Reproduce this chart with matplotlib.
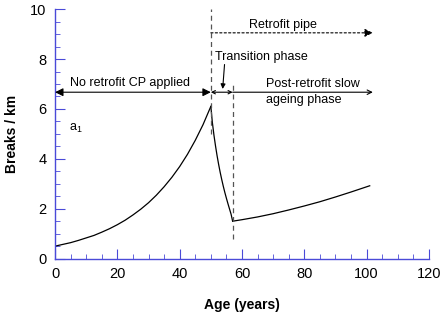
import numpy as np
import matplotlib.pyplot as plt
from matplotlib.ticker import MultipleLocator

plt.rcParams['font.family'] = ['Liberation Sans', 'DejaVu Sans']
plt.rcParams['mathtext.default'] = 'regular'

# courbe : avant retrofit, transition, apres retrofit
age_avant = [0, 2.5, 5, 7.5, 10, 12.5, 15, 17.5, 20, 22.5, 25, 27.5, 30,
             32.5, 35, 37.5, 40, 42.5, 45, 47.5, 50]
casses_avant = [0.50, 0.57, 0.64, 0.73, 0.83, 0.93, 1.06, 1.20, 1.36, 1.54, 1.75,
                1.98, 2.24, 2.54, 2.88, 3.26, 3.69, 4.18, 4.74, 5.37, 6.1]
age_trans = [50, 50.5, 51, 51.5, 52, 52.5, 53, 53.5, 54, 54.5, 55, 55.5, 56, 56.5, 57]
casses_trans = [6.1, 5.45, 4.95, 4.52, 4.13, 3.78, 3.46, 3.17, 2.9, 2.65, 2.42,
                2.2, 1.99, 1.78, 1.5]
age_apres = [57, 60, 65, 70, 75, 80, 85, 90, 95, 101]
casses_apres = [1.5, 1.56, 1.67, 1.8, 1.95, 2.11, 2.28, 2.47, 2.67, 2.92]

t_retrofit = 50
t_fin_transition = 57
t_fin = 102

bleu = '#4a4ad8'

fig = plt.figure(figsize=(4.44, 3.15), dpi=100)
ax = fig.add_axes([0.124, 0.179, 0.842, 0.792])

ax.plot(age_avant, casses_avant, color='black', lw=0.9)
ax.plot(age_trans, casses_trans, color='black', lw=0.9)
ax.plot(age_apres, casses_apres, color='black', lw=0.9)

# lignes verticales en tirets
ax.plot([t_retrofit, t_retrofit], [5.0, 10], color='#555555', lw=0.9, ls=(0, (4, 3)))
ax.plot([t_fin_transition, t_fin_transition], [0.8, 7.0], color='#555555', lw=0.9, ls=(0, (4, 3)))

y_fleche = 6.67
ax.annotate('', xy=(0, y_fleche), xytext=(t_retrofit, y_fleche),
            arrowprops=dict(arrowstyle='<|-|>', color='black', lw=0.8, mutation_scale=12,
                            shrinkA=0, shrinkB=0))
ax.annotate('', xy=(t_retrofit, y_fleche), xytext=(t_fin_transition, y_fleche),
            arrowprops=dict(arrowstyle='<->', color='black', lw=0.8, mutation_scale=6,
                            shrinkA=0, shrinkB=0))
ax.annotate('', xy=(t_fin, y_fleche), xytext=(t_fin_transition, y_fleche),
            arrowprops=dict(arrowstyle='->', color='black', lw=0.8, mutation_scale=8,
                            shrinkA=0, shrinkB=0))
ax.annotate('', xy=(t_fin, 9.05), xytext=(t_retrofit, 9.05),
            arrowprops=dict(arrowstyle='-|>', color='black', lw=0.8, ls=(0, (2, 2)),
                            mutation_scale=12, shrinkA=0, shrinkB=0))
ax.annotate('', xy=(53.8, 6.8), xytext=(54.4, 7.78),
            arrowprops=dict(arrowstyle='-|>', color='black', lw=0.8, mutation_scale=7,
                            shrinkA=0, shrinkB=0))

ax.text(24, 6.8, 'No retrofit CP applied', fontsize=9, ha='center', va='bottom')
ax.text(51.3, 8.1, 'Transition phase', fontsize=9, ha='left', va='center')
ax.text(73, 9.35, 'Retrofit pipe', fontsize=9, ha='center', va='center')
ax.text(67.6, y_fleche, 'Post-retrofit slow\nageing phase', fontsize=9, ha='left',
        va='center', linespacing=1.45)
ax.text(6.5, 5.2, 'a$_1$', fontsize=9, ha='center', va='center')

ax.set_xlim(0, 120)
ax.set_ylim(0, 10)
ax.xaxis.set_major_locator(MultipleLocator(20))
ax.xaxis.set_minor_locator(MultipleLocator(5))
ax.yaxis.set_major_locator(MultipleLocator(2))
ax.yaxis.set_minor_locator(MultipleLocator(0.5))

for c in ['top', 'right']:
    ax.spines[c].set_visible(False)
for c in ['left', 'bottom']:
    ax.spines[c].set_color(bleu)
    ax.spines[c].set_linewidth(1.0)
ax.tick_params(which='both', direction='in', color=bleu, labelsize=10.5)
ax.tick_params(which='major', length=7, pad=6)
ax.tick_params(which='minor', length=3.5)

ax.set_xlabel('Age (years)', fontsize=10, fontweight='bold', labelpad=12)
ax.set_ylabel('Breaks / km', fontsize=10, fontweight='bold', labelpad=8)

fig.savefig('out.png', dpi=100)
